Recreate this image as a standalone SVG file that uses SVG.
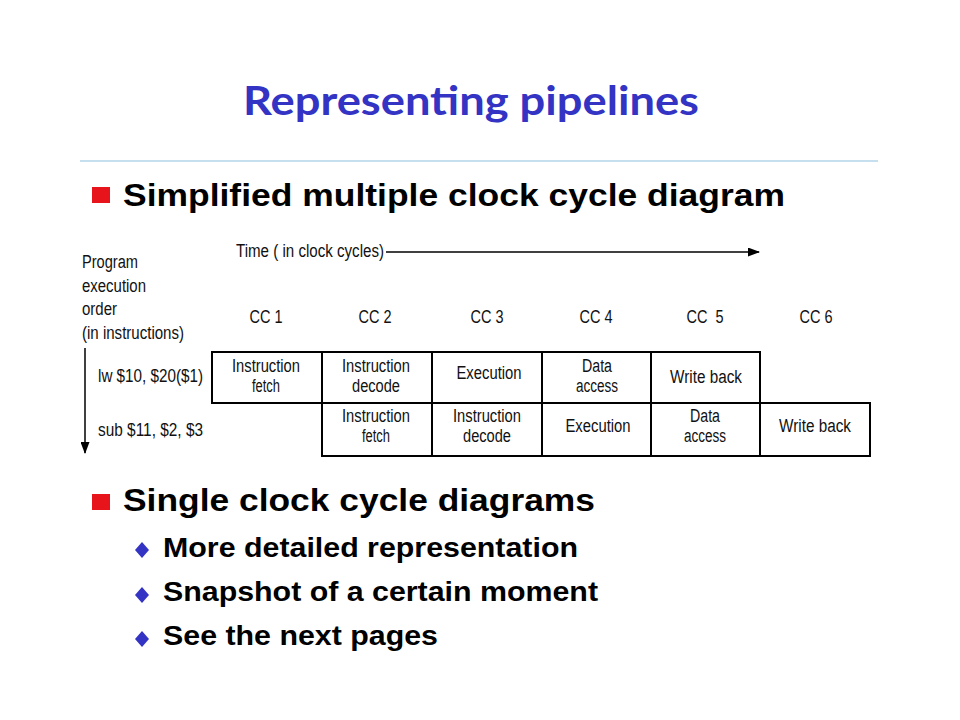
<svg xmlns="http://www.w3.org/2000/svg" width="960" height="720" viewBox="0 0 960 720">
<defs>
<style>
.title{font-family:Lato,"Open Sans","DejaVu Sans",sans-serif;font-weight:bold;font-size:41px;fill:#3333c4}
.b1{font-family:"Liberation Sans",Arial,sans-serif;font-weight:bold;font-size:32px;fill:#000}
.b2{font-family:"Liberation Sans",Arial,sans-serif;font-weight:bold;font-size:28px;fill:#000}
.s{font-family:"Liberation Sans",Arial,sans-serif;font-size:18px;fill:#111}
.c{font-family:"Liberation Sans",Arial,sans-serif;font-size:18px;fill:#111;text-anchor:middle}
.box{fill:#fff;stroke:#000;stroke-width:2}
.ln{stroke:#000;stroke-width:1.5;fill:none}
</style>
<marker id="ah" markerWidth="12" markerHeight="9" refX="11" refY="4.5" orient="auto" markerUnits="userSpaceOnUse">
<path d="M0,0 L12,4.5 L0,9 z" fill="#000"/>
</marker>
</defs>
<rect width="960" height="720" fill="#fff"/>
<text class="title" x="243" y="115" textLength="456" lengthAdjust="spacingAndGlyphs">Representing pipelines</text>
<line x1="80" y1="161" x2="878" y2="161" stroke="#b3d5ea" stroke-width="1.5"/>

<rect x="92" y="187" width="18" height="16" fill="#e8141b"/>
<text class="b1" x="123" y="206" textLength="662" lengthAdjust="spacingAndGlyphs">Simplified multiple clock cycle diagram</text>

<g id="connectors">
<line class="ln" x1="386" y1="252" x2="759" y2="252" marker-end="url(#ah)"/>
<line class="ln" x1="85" y1="348" x2="85" y2="453" stroke="#444" marker-end="url(#ah)"/>
</g>

<text class="s" x="236" y="257" textLength="148" lengthAdjust="spacingAndGlyphs">Time ( in clock cycles)</text>
<text class="s" x="82" y="268" textLength="56" lengthAdjust="spacingAndGlyphs">Program</text>
<text class="s" x="82" y="292" textLength="64" lengthAdjust="spacingAndGlyphs">execution</text>
<text class="s" x="82" y="315" textLength="35" lengthAdjust="spacingAndGlyphs">order</text>
<text class="s" x="82" y="339" textLength="102" lengthAdjust="spacingAndGlyphs">(in instructions)</text>
<text class="s" x="98" y="382" textLength="105" lengthAdjust="spacingAndGlyphs">lw $10, $20($1)</text>
<text class="s" x="98" y="436" textLength="105" lengthAdjust="spacingAndGlyphs">sub $11, $2, $3</text>

<text class="c" x="266" y="323" textLength="33" lengthAdjust="spacingAndGlyphs">CC 1</text>
<text class="c" x="375" y="323" textLength="33" lengthAdjust="spacingAndGlyphs">CC 2</text>
<text class="c" x="487" y="323" textLength="33" lengthAdjust="spacingAndGlyphs">CC 3</text>
<text class="c" x="596" y="323" textLength="33" lengthAdjust="spacingAndGlyphs">CC 4</text>
<text class="c" x="705" y="323" textLength="37" lengthAdjust="spacingAndGlyphs" xml:space="preserve">CC  5</text>
<text class="c" x="816" y="323" textLength="33" lengthAdjust="spacingAndGlyphs">CC 6</text>

<g id="lw-if"><rect class="box" x="212" y="352" width="110" height="51"/><text class="c" x="266" y="372" textLength="68" lengthAdjust="spacingAndGlyphs">Instruction</text><text class="c" x="266" y="392" textLength="28" lengthAdjust="spacingAndGlyphs">fetch</text></g>
<g id="lw-id"><rect class="box" x="322" y="352" width="110" height="51"/><text class="c" x="376" y="372" textLength="68" lengthAdjust="spacingAndGlyphs">Instruction</text><text class="c" x="376" y="392" textLength="48" lengthAdjust="spacingAndGlyphs">decode</text></g>
<g id="lw-ex"><rect class="box" x="432" y="352" width="110" height="51"/><text class="c" x="489" y="379" textLength="65" lengthAdjust="spacingAndGlyphs">Execution</text></g>
<g id="lw-mem"><rect class="box" x="542" y="352" width="109" height="51"/><text class="c" x="597" y="372" textLength="30" lengthAdjust="spacingAndGlyphs">Data</text><text class="c" x="597" y="392" textLength="42" lengthAdjust="spacingAndGlyphs">access</text></g>
<g id="lw-wb"><rect class="box" x="651" y="352" width="109" height="51"/><text class="c" x="706" y="383" textLength="72" lengthAdjust="spacingAndGlyphs">Write back</text></g>

<g id="sub-if"><rect class="box" x="322" y="403" width="110" height="53"/><text class="c" x="376" y="422" textLength="68" lengthAdjust="spacingAndGlyphs">Instruction</text><text class="c" x="376" y="442" textLength="28" lengthAdjust="spacingAndGlyphs">fetch</text></g>
<g id="sub-id"><rect class="box" x="432" y="403" width="110" height="53"/><text class="c" x="487" y="422" textLength="68" lengthAdjust="spacingAndGlyphs">Instruction</text><text class="c" x="487" y="442" textLength="48" lengthAdjust="spacingAndGlyphs">decode</text></g>
<g id="sub-ex"><rect class="box" x="542" y="403" width="109" height="53"/><text class="c" x="598" y="432" textLength="65" lengthAdjust="spacingAndGlyphs">Execution</text></g>
<g id="sub-mem"><rect class="box" x="651" y="403" width="109" height="53"/><text class="c" x="705" y="422" textLength="30" lengthAdjust="spacingAndGlyphs">Data</text><text class="c" x="705" y="442" textLength="42" lengthAdjust="spacingAndGlyphs">access</text></g>
<g id="sub-wb"><rect class="box" x="760" y="403" width="110" height="53"/><text class="c" x="815" y="432" textLength="72" lengthAdjust="spacingAndGlyphs">Write back</text></g>

<rect x="92" y="494" width="18" height="16" fill="#e8141b"/>
<text class="b1" x="123" y="511" textLength="472" lengthAdjust="spacingAndGlyphs">Single clock cycle diagrams</text>

<path d="M142,542 L149,550 L142,558 L135,550 z" fill="#3333c4"/>
<text class="b2" x="163" y="557" textLength="415" lengthAdjust="spacingAndGlyphs">More detailed representation</text>
<path d="M142,587 L149,595 L142,603 L135,595 z" fill="#3333c4"/>
<text class="b2" x="163" y="601" textLength="435" lengthAdjust="spacingAndGlyphs">Snapshot of a certain moment</text>
<path d="M142,631 L149,639 L142,647 L135,639 z" fill="#3333c4"/>
<text class="b2" x="163" y="645" textLength="275" lengthAdjust="spacingAndGlyphs">See the next pages</text>
</svg>
